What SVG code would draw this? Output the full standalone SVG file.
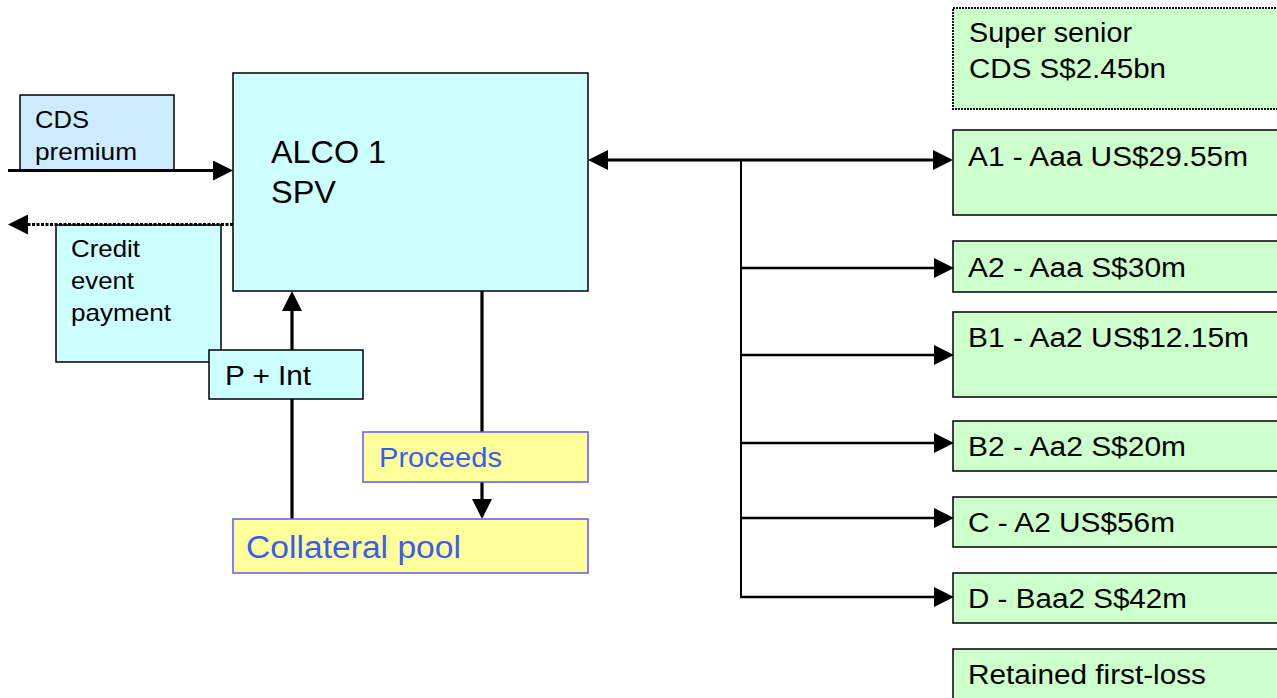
<svg xmlns="http://www.w3.org/2000/svg" width="1277" height="698" viewBox="0 0 1277 698">
<defs>
<style>
text{font-family:"Liberation Sans",Arial,sans-serif;fill:#000}
.cyan{fill:#CCFFFF;stroke:#000;stroke-width:1.5}
.blue{fill:#CCEBFF;stroke:#000;stroke-width:1.5}
.green{fill:#CCFFCC;stroke:#000;stroke-width:1.5}
.greendot{fill:#CCFFCC;stroke:#111;stroke-width:2;stroke-dasharray:2 1}
.yellow{fill:#FFFF99;stroke:#5A5AFF;stroke-width:1.5}
.t23{font-size:24px}
.t26{font-size:27px}
.t30{font-size:31px}
.bt{fill:#3A5CF0}
.thick{stroke:#000;stroke-width:3.2;fill:none}
.dot{stroke:#000;stroke-width:3.2;fill:none;stroke-dasharray:3 1.5}
.thin{stroke:#000;stroke-width:2;fill:none}
.br{stroke:#000;stroke-width:2.5;fill:none}
</style>
<marker id="ah" markerUnits="userSpaceOnUse" viewBox="0 0 20 20" refX="0" refY="10" markerWidth="20" markerHeight="20" orient="auto-start-reverse">
<path d="M0,0 L20,10 L0,20 z" fill="#000"/>
</marker>
</defs>
<rect width="1277" height="698" fill="#fff"/>

<g id="alco">
<rect class="cyan" x="233" y="73" width="355" height="218"/>
<text class="t30" x="271" y="163" textLength="115" lengthAdjust="spacingAndGlyphs">ALCO 1</text>
<text class="t30" x="271" y="203" textLength="65" lengthAdjust="spacingAndGlyphs">SPV</text>
</g>
<g id="cds-premium">
<rect class="blue" x="20" y="95" width="154" height="75"/>
<text class="t23" x="35" y="128" textLength="54" lengthAdjust="spacingAndGlyphs">CDS</text>
<text class="t23" x="35" y="160" textLength="102" lengthAdjust="spacingAndGlyphs">premium</text>
</g>
<g id="credit-event">
<rect class="cyan" x="56" y="225" width="165" height="137"/>
<text class="t23" x="71" y="257" textLength="69" lengthAdjust="spacingAndGlyphs">Credit</text>
<text class="t23" x="71" y="289" textLength="63" lengthAdjust="spacingAndGlyphs">event</text>
<text class="t23" x="71" y="321" textLength="100" lengthAdjust="spacingAndGlyphs">payment</text>
</g>
<g id="super-senior">
<rect class="greendot" x="953" y="8" width="340" height="101"/>
<text class="t26" x="969" y="42" textLength="163" lengthAdjust="spacingAndGlyphs">Super senior</text>
<text class="t26" x="969" y="78" textLength="197" lengthAdjust="spacingAndGlyphs">CDS S$2.45bn</text>
</g>
<g id="a1">
<rect class="green" x="953" y="130" width="340" height="85"/>
<text class="t26" x="968" y="166" textLength="280" lengthAdjust="spacingAndGlyphs">A1 - Aaa US$29.55m</text>
</g>
<g id="a2">
<rect class="green" x="953" y="241" width="340" height="51"/>
<text class="t26" x="968" y="277" textLength="218" lengthAdjust="spacingAndGlyphs">A2 - Aaa S$30m</text>
</g>
<g id="b1">
<rect class="green" x="953" y="312" width="340" height="85"/>
<text class="t26" x="968" y="347" textLength="281" lengthAdjust="spacingAndGlyphs">B1 - Aa2 US$12.15m</text>
</g>
<g id="b2">
<rect class="green" x="953" y="421" width="340" height="50"/>
<text class="t26" x="968" y="456" textLength="218" lengthAdjust="spacingAndGlyphs">B2 - Aa2 S$20m</text>
</g>
<g id="c">
<rect class="green" x="953" y="497" width="340" height="50"/>
<text class="t26" x="968" y="532" textLength="207" lengthAdjust="spacingAndGlyphs">C - A2 US$56m</text>
</g>
<g id="d">
<rect class="green" x="953" y="573" width="340" height="50"/>
<text class="t26" x="968" y="608" textLength="219" lengthAdjust="spacingAndGlyphs">D - Baa2 S$42m</text>
</g>
<g id="retained">
<rect class="green" x="953" y="649" width="340" height="60"/>
<text class="t26" x="968" y="684" textLength="238" lengthAdjust="spacingAndGlyphs">Retained first-loss</text>
</g>

<g id="connectors">
<line class="thick" x1="8" y1="170.5" x2="213" y2="170.5" marker-end="url(#ah)"/>
<line class="dot" x1="233" y1="224.5" x2="28" y2="224.5" marker-end="url(#ah)"/>
<line class="thick" x1="608" y1="160" x2="933" y2="160" marker-start="url(#ah)" marker-end="url(#ah)"/>
<line class="thin" x1="741" y1="160" x2="741" y2="598"/>
<line class="br" x1="740" y1="268" x2="934" y2="268" marker-end="url(#ah)"/>
<line class="br" x1="740" y1="355" x2="934" y2="355" marker-end="url(#ah)"/>
<line class="br" x1="740" y1="443" x2="934" y2="443" marker-end="url(#ah)"/>
<line class="br" x1="740" y1="518" x2="934" y2="518" marker-end="url(#ah)"/>
<line class="br" x1="740" y1="597" x2="934" y2="597" marker-end="url(#ah)"/>
<line class="thick" x1="292" y1="519" x2="292" y2="311" marker-end="url(#ah)"/>
<line class="thick" x1="482" y1="291" x2="482" y2="499" marker-end="url(#ah)"/>
</g>

<g id="p-int">
<rect class="cyan" x="209" y="350" width="154" height="49"/>
<text class="t26" x="225" y="385" textLength="86" lengthAdjust="spacingAndGlyphs">P + Int</text>
</g>
<g id="proceeds">
<rect class="yellow" x="363" y="432" width="225" height="50"/>
<text class="t26 bt" x="379" y="467" textLength="123" lengthAdjust="spacingAndGlyphs">Proceeds</text>
</g>
<g id="collateral-pool">
<rect class="yellow" x="233" y="519" width="355" height="54"/>
<text class="t30 bt" x="246" y="558" textLength="215" lengthAdjust="spacingAndGlyphs">Collateral pool</text>
</g>
</svg>
